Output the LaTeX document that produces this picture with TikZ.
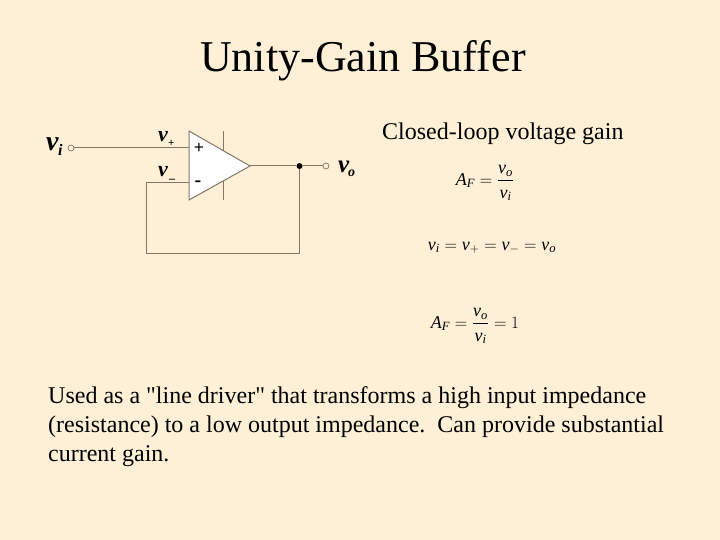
\documentclass[tikz,border=0pt]{standalone}
\usepackage{fontspec}
\usepackage{amsmath}
\setmainfont{Liberation Serif}[Ligatures=TeXOff]
\definecolor{bg}{RGB}{253, 240, 214}
\definecolor{wire}{RGB}{130, 120, 105}
\usetikzlibrary{positioning}
\tikzset{
  txt/.style={inner sep=0pt, anchor=base west, text=black},
  big/.style={txt, font=\fontsize{28}{28}\selectfont\bfseries\itshape},
  sml/.style={txt, font=\fontsize{22}{22}\selectfont\bfseries\itshape},
  eqn/.style={inner sep=0pt, text=black, font=\fontsize{18}{18}\selectfont},
  wireline/.style={line width=1pt, color=wire},
  port/.style={circle, minimum size=6pt, inner sep=0pt, fill=bg, line width=0.7pt, draw=wire},
  junction/.style={circle, minimum size=6pt, inner sep=0pt, fill=black}
}
\newcommand{\vv}[1]{\mathit{v}_{\mathit{#1}}}
\newcommand{\low}{\rule{0pt}{15pt}}
\begin{document}
\begin{tikzpicture}
\fill [bg] (0pt, 0pt) rectangle (720pt, -540pt);
\useasboundingbox (0pt, 0pt) rectangle (720pt, -540pt);
\node (title) [txt, font=\fontsize{44}{44}\selectfont] at (200.0pt, -72.0pt) {Unity-Gain Buffer};
\node (head) [txt, font=\fontsize{24}{24}\selectfont] at (382.0pt, -140.0pt) {Closed-loop voltage gain};
\node (body) [inner sep=0pt, anchor=north west, align=left, font=\fontsize{24}{29}\selectfont] at (48.0pt, -386.0pt) {Used as a "line driver" that transforms a high input impedance\\(resistance) to a low output impedance.\ \ Can provide substantial\\current gain.};
\coordinate (bartop) at (223.5pt, -131.0pt);
\coordinate (barbot) at (223.5pt, -200.0pt);
\coordinate (t1) at (189.0pt, -131.0pt);
\coordinate (t2) at (189.0pt, -200.0pt);
\coordinate (t3) at (250.0pt, -166.0pt);
\coordinate (plus) at (189.0pt, -148.0pt);
\coordinate (minus) at (189.0pt, -182.5pt);
\coordinate (c1) at (146.0pt, -182.5pt);
\coordinate (c2) at (146.0pt, -253.0pt);
\coordinate (c3) at (299.5pt, -253.0pt);
\node (in) [port] at (71.0pt, -148.0pt) {};
\node (out) [port] at (326.0pt, -166.0pt) {};
\node (dot) [junction] at (299.5pt, -166.0pt) {};
\draw [wireline] (bartop) to (barbot);
\draw [wireline, fill=white] (t1) -- (t2) -- (t3) -- cycle;
\draw [wireline] (in) to (plus);
\draw [wireline] (minus) -- (c1) -- (c2) -- (c3) -- (dot);
\draw [wireline] (t3) -- (dot) -- (out);
\node (pl) [txt, font=\fontsize{18}{18}\selectfont\bfseries, anchor=center] at (199.0pt, -148.0pt) {+};
\node (mi) [txt, font=\fontsize{20}{20}\selectfont\bfseries, anchor=center] at (198.0pt, -184.0pt) {-};
\node (vi) [big] at (46.0pt, -151.0pt) {$\boldsymbol{\mathit{v}}$};
\node (vis) [txt, font=\fontsize{16}{16}\selectfont\bfseries\itshape] at (58.0pt, -156.0pt) {i};
\node (vo) [sml, font=\fontsize{25}{25}\selectfont\bfseries\itshape] at (338.0pt, -173.0pt) {v};
\node (vos) [txt, font=\fontsize{14}{14}\selectfont\bfseries\itshape] at (348.0pt, -177.0pt) {o};
\node (vp) [sml] at (158.0pt, -142.0pt) {v};
\node (vps) [txt, font=\fontsize{11}{11}\selectfont\bfseries] at (168.0pt, -146.5pt) {+};
\node (vm) [sml] at (158.0pt, -177.0pt) {v};
\node (vms) [txt, font=\fontsize{12}{12}\selectfont\bfseries] at (169.0pt, -183.0pt) {\textendash};
\node (eq1) [eqn] at (485.0pt, -183.0pt) {$\mathit{A}_{\mathit{F}}=\dfrac{\vv{o}}{\low\vv{i}}$};
\node (eq2) [eqn] at (492.0pt, -248.0pt) {$\vv{i}=\mathit{v}_{+}=\mathit{v}_{-}=\vv{o}$};
\node (eq3) [eqn] at (475.0pt, -326.0pt) {$\mathit{A}_{\mathit{F}}=\dfrac{\vv{o}}{\low\vv{i}}=1$};
\end{tikzpicture}
\end{document}
